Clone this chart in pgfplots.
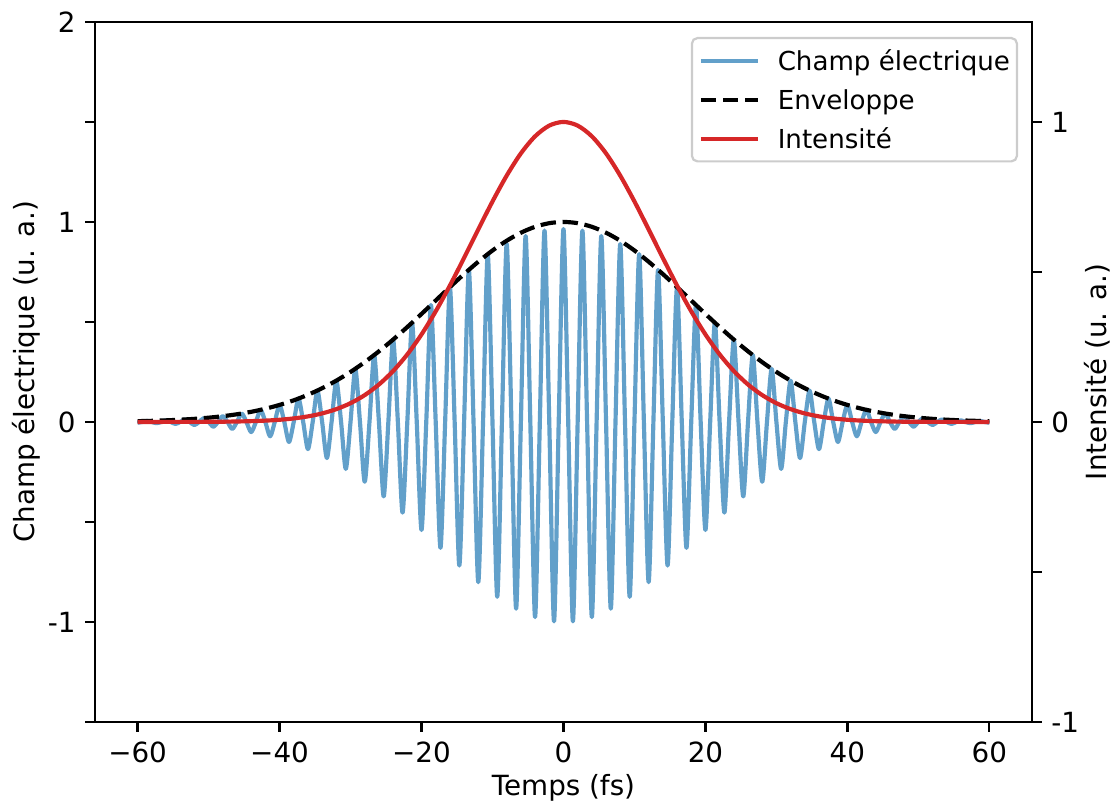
\documentclass[border=0pt]{standalone}
\usepackage{fontspec}
\setmainfont{DejaVu Sans}
\usepackage{pgfplots}
\pgfplotsset{compat=1.18}
\definecolor{fieldblue}{RGB}{98,160,202}
\definecolor{tabred}{RGB}{214,39,40}
\definecolor{legframe}{RGB}{204,204,204}

\pgfplotsset{
  common/.style={
    scale only axis,
    width=337.3bp, height=252bp,
    xmin=-66, xmax=66,
    tick align=outside,
    major tick length=3.5bp,
    tick style={black, line width=0.8bp},
    axis line style={line width=0.8bp},
    font=\fontsize{10bp}{12bp}\selectfont,
    tick label style={font=\fontsize{10bp}{12bp}\selectfont},
    label style={font=\fontsize{10bp}{12bp}\selectfont},
  }
}

\begin{document}
\begin{tikzpicture}
\begin{axis}[
  common,
  name=main,
  ymin=-1.5, ymax=2,
  xtick={-60,-40,-20,0,20,40,60},
  xticklabels={−60,−40,−20,0,20,40,60},
  ytick={-1.5,-1,-0.5,0,0.5,1,1.5,2},
  yticklabels={,-1,,0,,1,,2},
  xtick pos=left, ytick pos=left,
  xlabel={Temps (fs)},
  ylabel={Champ électrique (u. a.)},
  xlabel style={at={(axis description cs:0.5,-0.0943)}, anchor=center},
  ylabel style={at={(axis description cs:-0.0736,0.5)}, anchor=center},
]
% Champ electrique: extrema and zero crossings
\addplot[fieldblue, line width=1.5bp, smooth, tension=0.45, line join=round] coordinates {
(-60,-0.0039) (-59.33,0) (-58.67,0.0050) (-58,0) (-57.33,-0.0063) (-56.67,0)
(-56,0.0080) (-55.33,0) (-54.67,-0.0100) (-54,0) (-53.33,0.0125) (-52.67,0)
(-52,-0.0156) (-51.33,0) (-50.67,0.0192) (-50,0) (-49.33,-0.0236) (-48.67,0)
(-48,0.0288) (-47.33,0) (-46.67,-0.0349) (-46,0) (-45.33,0.0422) (-44.67,0)
(-44,-0.0507) (-43.33,0) (-42.67,0.0606) (-42,0) (-41.33,-0.0720) (-40.67,0)
(-40,0.0851) (-39.33,0) (-38.67,-0.1000) (-38,0) (-37.33,0.1169) (-36.67,0)
(-36,-0.1359) (-35.33,0) (-34.67,0.1571) (-34,0) (-33.33,-0.1807) (-32.67,0)
(-32,0.2066) (-31.33,0) (-30.67,-0.2350) (-30,0) (-29.33,0.2658) (-28.67,0)
(-28,-0.2990) (-27.33,0) (-26.67,0.3345) (-26,0) (-25.33,-0.3722) (-24.67,0)
(-24,0.4119) (-23.33,0) (-22.67,-0.4533) (-22,0) (-21.33,0.4962) (-20.67,0)
(-20,-0.5401) (-19.33,0) (-18.67,0.5847) (-18,0) (-17.33,-0.6296) (-16.67,0)
(-16,0.6742) (-15.33,0) (-14.67,-0.7180) (-14,0) (-13.33,0.7605) (-12.67,0)
(-12,-0.8011) (-11.33,0) (-10.67,0.8393) (-10,0) (-9.33,-0.8745) (-8.67,0)
(-8,0.8900) (-7.33,0) (-6.67,-0.9338) (-6,0) (-5.33,0.9300) (-4.67,0)
(-4,-0.9757) (-3.33,0) (-2.67,0.9570) (-2,0) (-1.33,-0.9973) (-0.67,0)
(0,0.9650)
(0.67,0) (1.33,-0.9973) (2,0) (2.67,0.9570) (3.33,0) (4,-0.9757)
(4.67,0) (5.33,0.9300) (6,0) (6.67,-0.9338) (7.33,0) (8,0.8900)
(8.67,0) (9.33,-0.8745) (10,0) (10.67,0.8393) (11.33,0) (12,-0.8011)
(12.67,0) (13.33,0.7605) (14,0) (14.67,-0.7180) (15.33,0) (16,0.6742)
(16.67,0) (17.33,-0.6296) (18,0) (18.67,0.5847) (19.33,0) (20,-0.5401)
(20.67,0) (21.33,0.4962) (22,0) (22.67,-0.4533) (23.33,0) (24,0.4119)
(24.67,0) (25.33,-0.3722) (26,0) (26.67,0.3345) (27.33,0) (28,-0.2990)
(28.67,0) (29.33,0.2658) (30,0) (30.67,-0.2350) (31.33,0) (32,0.2066)
(32.67,0) (33.33,-0.1807) (34,0) (34.67,0.1571) (35.33,0) (36,-0.1359)
(36.67,0) (37.33,0.1169) (38,0) (38.67,-0.1000) (39.33,0) (40,0.0851)
(40.67,0) (41.33,-0.0720) (42,0) (42.67,0.0606) (43.33,0) (44,-0.0507)
(44.67,0) (45.33,0.0422) (46,0) (46.67,-0.0349) (47.33,0) (48,0.0288)
(48.67,0) (49.33,-0.0236) (50,0) (50.67,0.0192) (51.33,0) (52,-0.0156)
(52.67,0) (53.33,0.0125) (54,0) (54.67,-0.0100) (55.33,0) (56,0.0080)
(56.67,0) (57.33,-0.0063) (58,0) (58.67,0.0050) (59.33,0) (60,-0.0039)
};
% Enveloppe
\addplot[black, line width=1.5bp, dash pattern=on 5.55bp off 2.4bp, smooth] coordinates {
(-60,0.0039) (-58,0.0056) (-56,0.0080) (-54,0.0112) (-52,0.0155) (-50,0.0213)
(-48,0.0288) (-46,0.0384) (-44,0.0507) (-42,0.0661) (-40,0.0851) (-38,0.1082)
(-36,0.1359) (-34,0.1686) (-32,0.2066) (-30,0.2501) (-28,0.2990) (-26,0.3531)
(-24,0.4119) (-22,0.4746) (-20,0.5401) (-18,0.6072) (-16,0.6742) (-14,0.7395)
(-12,0.8011) (-10,0.8573) (-8,0.9061) (-6,0.9461) (-4,0.9757) (-2,0.9939)
(0,1.0000)
(2,0.9939) (4,0.9757) (6,0.9461) (8,0.9061) (10,0.8573) (12,0.8011)
(14,0.7395) (16,0.6742) (18,0.6072) (20,0.5401) (22,0.4746) (24,0.4119)
(26,0.3531) (28,0.2990) (30,0.2501) (32,0.2066) (34,0.1686) (36,0.1359)
(38,0.1082) (40,0.0851) (42,0.0661) (44,0.0507) (46,0.0384) (48,0.0288)
(50,0.0213) (52,0.0155) (54,0.0112) (56,0.0080) (58,0.0056) (60,0.0039)
};
\end{axis}

\begin{axis}[
  common,
  ymin=-1, ymax=1.3333,
  axis x line=none,
  axis y line*=right,
  ytick={-1,-0.5,0,0.5,1},
  yticklabels={-1,,0,,1},
  ylabel={Intensité (u. a.)},
  ylabel style={at={(axis description cs:1.0699,0.5)}, anchor=center},
  legend cell align=left,
  legend image code/.code={\draw[#1] (0bp,0bp) -- (20.4bp,0bp);},
  legend style={
    at={(1,1)}, anchor=north east, xshift=-5bp, yshift=-5.4bp,
    draw=legframe, line width=0.8bp, rounded corners=2bp,
    fill=white, fill opacity=0.8, text opacity=1,
    font=\fontsize{9.4bp}{11bp}\selectfont,
    inner xsep=2.5bp, inner ysep=1.2bp,
    column sep=6.5bp, row sep=0bp,
    nodes={inner sep=0bp, text height=10.43bp, text depth=3.57bp},
  },
]
\addlegendimage{fieldblue, line width=1.5bp}
\addlegendentry{Champ électrique}
\addlegendimage{black, line width=1.5bp, dash pattern=on 5.55bp off 2.4bp}
\addlegendentry{Enveloppe}
% Intensite
\addplot[tabred, line width=1.5bp, smooth] coordinates {
(-60,0.0000) (-58,0.0000) (-56,0.0001) (-54,0.0001) (-52,0.0002) (-50,0.0005)
(-48,0.0008) (-46,0.0015) (-44,0.0026) (-42,0.0044) (-40,0.0072) (-38,0.0117)
(-36,0.0185) (-34,0.0284) (-32,0.0427) (-30,0.0625) (-28,0.0894) (-26,0.1247)
(-24,0.1697) (-22,0.2252) (-20,0.2917) (-18,0.3687) (-16,0.4546) (-14,0.5469)
(-12,0.6418) (-10,0.7349) (-8,0.8210) (-6,0.8951) (-4,0.9520) (-2,0.9878)
(0,1.0000)
(2,0.9878) (4,0.9520) (6,0.8951) (8,0.8210) (10,0.7349) (12,0.6418)
(14,0.5469) (16,0.4546) (18,0.3687) (20,0.2917) (22,0.2252) (24,0.1697)
(26,0.1247) (28,0.0894) (30,0.0625) (32,0.0427) (34,0.0284) (36,0.0185)
(38,0.0117) (40,0.0072) (42,0.0044) (44,0.0026) (46,0.0015) (48,0.0008)
(50,0.0005) (52,0.0002) (54,0.0001) (56,0.0001) (58,0.0000) (60,0.0000)
};
\addlegendentry{Intensité}
\end{axis}
\pgfresetboundingbox
\path[use as bounding box] ([xshift=-34.2bp,yshift=-30.2bp]main.south west) rectangle ([xshift=29.9bp,yshift=7.9bp]main.north east);
\end{tikzpicture}
\end{document}
